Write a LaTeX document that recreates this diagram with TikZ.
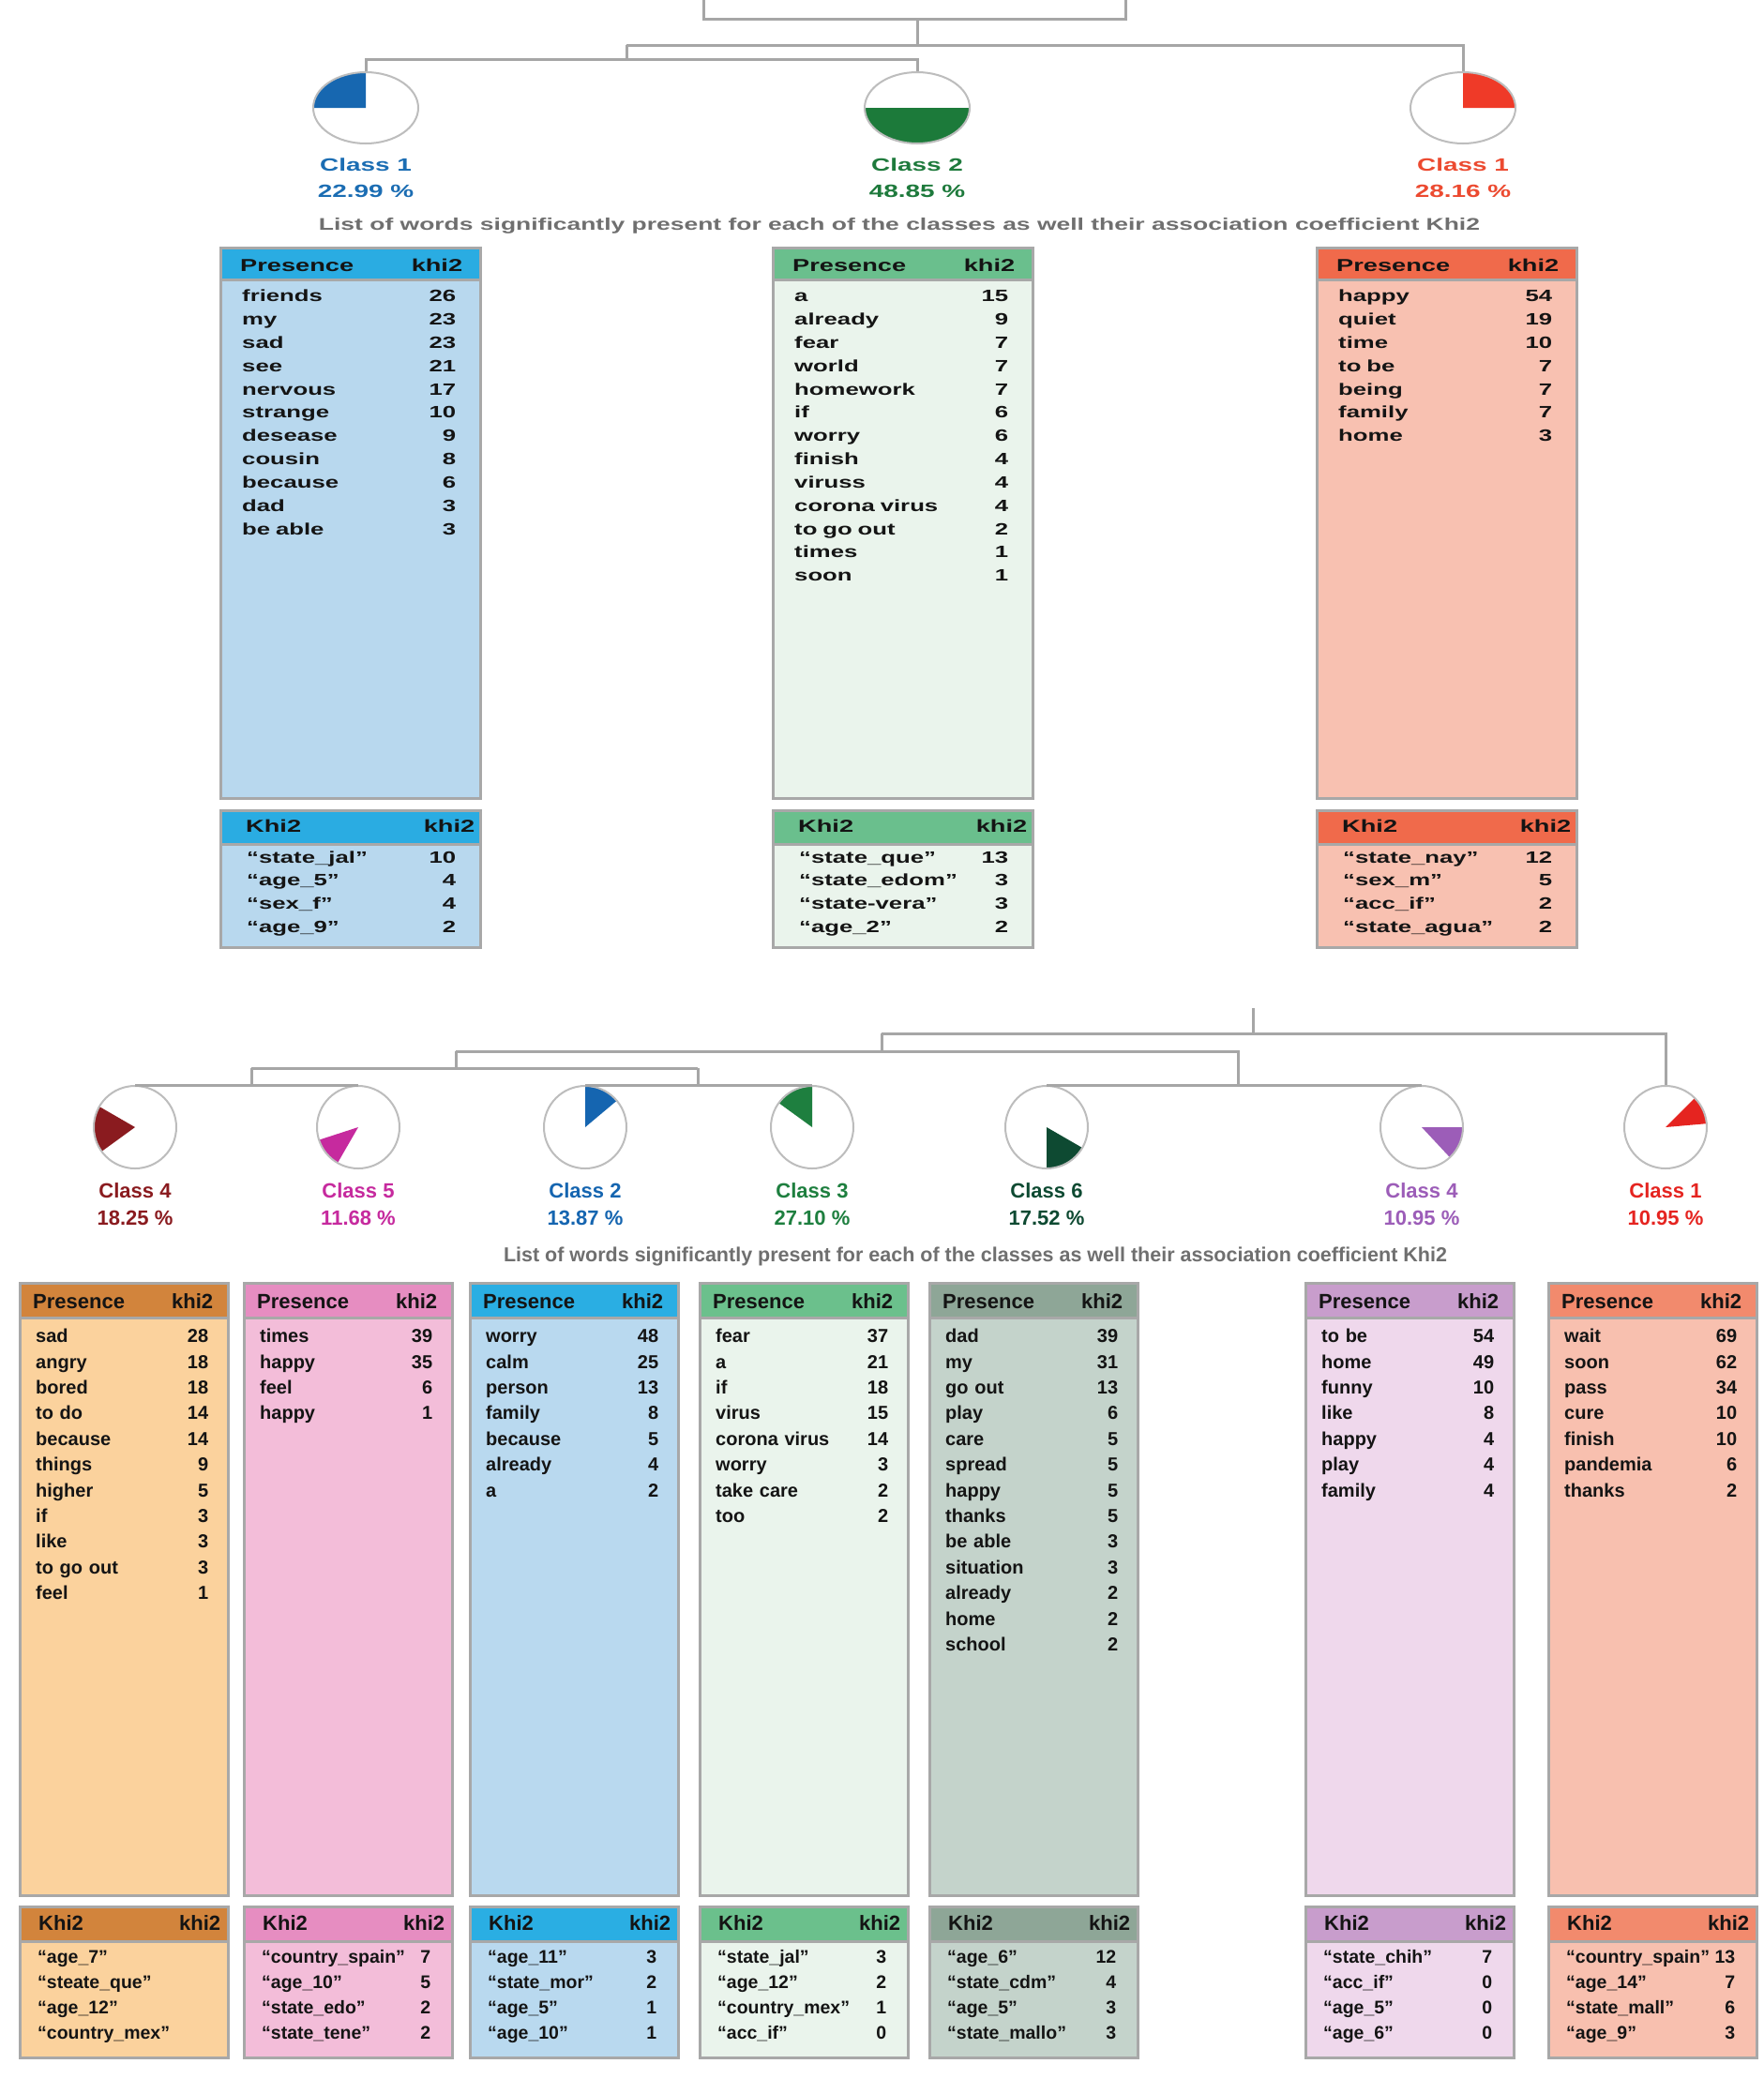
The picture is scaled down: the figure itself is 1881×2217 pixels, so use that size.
\documentclass[tikz,border=0pt]{standalone}
\usepackage{fontspec}
\setmainfont{Liberation Sans}
\newfontfamily\widefam[FakeStretch=1.47]{Liberation Sans}
\usetikzlibrary{shapes.geometric,calc}

\definecolor{dgray}{HTML}{A6A6A6}
\definecolor{cgray}{HTML}{BDBDBD}
\definecolor{bgray}{HTML}{A8A8A8}
\definecolor{capgray}{HTML}{6F6F6F}
\definecolor{tblack}{HTML}{141414}
% top
\definecolor{tBlueH}{HTML}{2AACE2}\definecolor{tBlueB}{HTML}{B8D8EE}
\definecolor{tGreenH}{HTML}{6ABF8D}\definecolor{tGreenB}{HTML}{EAF4EC}
\definecolor{tRedH}{HTML}{F06A4B}\definecolor{tRedB}{HTML}{F8C1B1}
\definecolor{lBlue}{HTML}{1B6DB3}\definecolor{lGreen}{HTML}{1E7A3C}\definecolor{lRed}{HTML}{EC4A30}
\definecolor{wBlue}{HTML}{1767B0}\definecolor{wGreen}{HTML}{1C7A3A}\definecolor{wRed}{HTML}{EF3A28}
% bottom
\definecolor{oH}{HTML}{D2843C}\definecolor{oB}{HTML}{FBD29D}
\definecolor{pH}{HTML}{E68DC1}\definecolor{pB}{HTML}{F3BDD9}
\definecolor{bH}{HTML}{2AAEE3}\definecolor{bB}{HTML}{B9D9EF}
\definecolor{gH}{HTML}{6BC08C}\definecolor{gB}{HTML}{EAF4EC}
\definecolor{ggH}{HTML}{8EA697}\definecolor{ggB}{HTML}{C4D3CB}
\definecolor{puH}{HTML}{C89DCC}\definecolor{puB}{HTML}{EFD8EC}
\definecolor{sH}{HTML}{F28A6D}\definecolor{sB}{HTML}{F8C0AF}
\definecolor{kFour}{HTML}{8A1B1F}\definecolor{kFive}{HTML}{C62A9E}
\definecolor{kTwo}{HTML}{1565B0}\definecolor{kThree}{HTML}{1E7F3F}
\definecolor{kSix}{HTML}{0E4A32}\definecolor{kFourP}{HTML}{9C5DB8}
\definecolor{kOne}{HTML}{E52420}

\tikzset{
  dline/.style={draw=dgray, line width=3pt},
  toppie/.style={ellipse, draw=cgray, line width=2pt, minimum width=112pt, minimum height=76pt, inner sep=0pt},
  botpie/.style={circle, draw=cgray, line width=2pt, minimum size=88pt, inner sep=0pt},
  tabbox/.style={draw=bgray, line width=2.5pt, anchor=north west, inner sep=0pt},
  ttxt/.style={anchor=base west, inner sep=0pt, align=left, text=tblack},
  toplab/.style={anchor=base, inner sep=0pt, font=\widefam\bfseries\fontsize{19}{21}\selectfont},
  botlab/.style={anchor=base, inner sep=0pt, font=\bfseries\fontsize{22}{24}\selectfont},
}

\newcommand\Wedge[6]{\fill[#2] (#1) -- ++(#3:#5 and #6) arc[start angle=#3, end angle=#4, x radius=#5, y radius=#6] -- cycle;}

\newcommand\TopTab[6]{%
  \node[tabbox, fill=#3, minimum width=277pt, minimum height=587pt] (#1p) at (#2,-263) {};
  \node[tabbox, fill=#4, minimum width=277pt, minimum height=34pt] (#1ph) at (#2,-263) {};
  \node[ttxt, text width=237pt, font=\widefam\bfseries\fontsize{18.5}{20}\selectfont] (#1pt) at (#2+22,-289) {Presence\hfill khi2};
  \node[ttxt, text width=228pt, font=\widefam\bfseries\fontsize{17.5}{24.83}\selectfont] (#1pr) at (#2+24,-321.7) {#5};
  \node[tabbox, fill=#3, minimum width=277pt, minimum height=146pt] (#1k) at (#2,-863) {};
  \node[tabbox, fill=#4, minimum width=277pt, minimum height=36pt] (#1kh) at (#2,-863) {};
  \node[ttxt, text width=244pt, font=\widefam\bfseries\fontsize{18.5}{20}\selectfont] (#1kt) at (#2+28,-887) {Khi2\hfill khi2};
  \node[ttxt, text width=223pt, font=\widefam\bfseries\fontsize{17.5}{24.7}\selectfont] (#1kr) at (#2+29,-920) {#6};
}

\newcommand\BotTab[6]{%
  \node[tabbox, fill=#3, minimum width=222pt, minimum height=653pt] (#1p) at (#2,-1367) {};
  \node[tabbox, fill=#4, minimum width=222pt, minimum height=37pt] (#1ph) at (#2,-1367) {};
  \node[ttxt, text width=192pt, font=\bfseries\fontsize{22}{24}\selectfont] (#1pt) at (#2+15,-1395) {Presence\hfill khi2};
  \node[ttxt, text width=184pt, font=\bfseries\fontsize{20}{27.4}\selectfont] (#1pr) at (#2+18,-1431.7) {#5};
  \node[tabbox, fill=#3, minimum width=222pt, minimum height=161pt] (#1k) at (#2,-2032) {};
  \node[tabbox, fill=#4, minimum width=222pt, minimum height=37pt] (#1kh) at (#2,-2032) {};
  \node[ttxt, text width=194pt, font=\bfseries\fontsize{22}{24}\selectfont] (#1kt) at (#2+21,-2058) {Khi2\hfill khi2};
  \node[ttxt, text width=180pt, font=\bfseries\fontsize{19.5}{27.3}\selectfont] (#1kr) at (#2+20,-2093) {#6};
}

\begin{document}
\begin{tikzpicture}[x=1pt,y=1pt]
\useasboundingbox (0,0) rectangle (1881,-2217);
\fill[white] (0,0) rectangle (1881,-2217);

% ---------- top pies ----------
\coordinate (pc1) at (390,-115);
\coordinate (pc2) at (978,-115);
\coordinate (pc3) at (1560,-115);
\Wedge{pc1}{wBlue}{90}{180}{56pt}{38pt}
\Wedge{pc2}{wGreen}{180}{360}{56pt}{38pt}
\Wedge{pc3}{wRed}{0}{90}{56pt}{38pt}
\node[toppie] (p1) at (pc1) {};
\node[toppie] (p2) at (pc2) {};
\node[toppie] (p3) at (pc3) {};

% ---------- top tree ----------
\coordinate (rootL) at (750,0);
\coordinate (rootR) at (1200,0);
\coordinate (t0) at (978,-20);
\coordinate (t1) at (668,-48);
\coordinate (t2) at (668,-63);
\draw[dline] (rootL) |- (t0) -| (rootR);
\draw[dline] (t0) -- (t0 |- t1);
\draw[dline] (t1) -| (p3.north);
\draw[dline] (t1) -- (t2);
\draw[dline] (p1.north) |- (t2);
\draw[dline] (t2) -| (p2.north);

% ---------- top labels ----------
\node[toplab, text=lBlue] (l1) at (390,-182) {Class 1};
\node[toplab, text=lBlue] (l1p) at (390,-210) {22.99 \%};
\node[toplab, text=lGreen] (l2) at (978,-182) {Class 2};
\node[toplab, text=lGreen] (l2p) at (978,-210) {48.85 \%};
\node[toplab, text=lRed] (l3) at (1560,-182) {Class 1};
\node[toplab, text=lRed] (l3p) at (1560,-210) {28.16 \%};
\node[anchor=base, inner sep=0pt, text=capgray, font=\widefam\bfseries\fontsize{18}{20}\selectfont] (cap1) at (959,-245)
  {List of words significantly present for each of the classes as well their association coefficient Khi2};

% ---------- top tables ----------
\TopTab{A}{234}{tBlueB}{tBlueH}
 {friends\hfill 26\\my\hfill 23\\sad\hfill 23\\see\hfill 21\\nervous\hfill 17\\strange\hfill 10\\desease\hfill 9\\cousin\hfill 8\\because\hfill 6\\dad\hfill 3\\be able\hfill 3}
 {“state\_jal”\hfill 10\\“age\_5”\hfill 4\\“sex\_f”\hfill 4\\“age\_9”\hfill 2}
\TopTab{B}{823}{tGreenB}{tGreenH}
 {a\hfill 15\\already\hfill 9\\fear\hfill 7\\world\hfill 7\\homework\hfill 7\\if\hfill 6\\worry\hfill 6\\finish\hfill 4\\viruss\hfill 4\\corona virus\hfill 4\\to go out\hfill 2\\times\hfill 1\\soon\hfill 1}
 {“state\_que”\hfill 13\\“state\_edom”\hfill 3\\“state-vera”\hfill 3\\“age\_2”\hfill 2}
\TopTab{C}{1403}{tRedB}{tRedH}
 {happy\hfill 54\\quiet\hfill 19\\time\hfill 10\\to be\hfill 7\\being\hfill 7\\family\hfill 7\\home\hfill 3}
 {“state\_nay”\hfill 12\\“sex\_m”\hfill 5\\“acc\_if”\hfill 2\\“state\_agua”\hfill 2}

% ---------- bottom pies ----------
\coordinate (qc1) at (144,-1202);
\coordinate (qc2) at (382,-1202);
\coordinate (qc3) at (624,-1202);
\coordinate (qc4) at (866,-1202);
\coordinate (qc5) at (1116,-1202);
\coordinate (qc6) at (1516,-1202);
\coordinate (qc7) at (1776,-1202);
\Wedge{qc1}{kFour}{150}{216}{44pt}{44pt}
\Wedge{qc2}{kFive}{198}{240}{44pt}{44pt}
\Wedge{qc3}{kTwo}{40}{90}{44pt}{44pt}
\Wedge{qc4}{kThree}{90}{144}{44pt}{44pt}
\Wedge{qc5}{kSix}{-90}{-30}{44pt}{44pt}
\Wedge{qc6}{kFourP}{-47}{0}{44pt}{44pt}
\Wedge{qc7}{kOne}{5}{45}{44pt}{44pt}
\node[botpie] (q1) at (qc1) {};
\node[botpie] (q2) at (qc2) {};
\node[botpie] (q3) at (qc3) {};
\node[botpie] (q4) at (qc4) {};
\node[botpie] (q5) at (qc5) {};
\node[botpie] (q6) at (qc6) {};
\node[botpie] (q7) at (qc7) {};

% ---------- bottom tree ----------
\coordinate (u0) at (1336,-1075);
\coordinate (u1) at (940,-1102);
\coordinate (u2) at (486,-1121);
\coordinate (u3) at (268,-1139);
\coordinate (u4) at (744,-1139);
\coordinate (u5) at (1320,-1157);
\draw[dline] (u0) -- (u0 |- u1);
\draw[dline] (u1) -| (q7.north);
\draw[dline] (u1) -- (u1 |- u2);
\draw[dline] (u2) -| (u5);
\draw[dline] (u2) -- (u2 |- u3);
\draw[dline] (u3) -- (u4);
\draw[dline] (u3) -- (u3 |- q1.north);
\draw[dline] (u4) -- (u4 |- q3.north);
\draw[dline] (q1.north) -- (q2.north);
\draw[dline] (q3.north) -- (q4.north);
\draw[dline] (q5.north) -- (q6.north);

% ---------- bottom labels ----------
\node[botlab, text=kFour] (m1) at (144,-1277) {Class 4};
\node[botlab, text=kFour] (m1p) at (144,-1306) {18.25 \%};
\node[botlab, text=kFive] (m2) at (382,-1277) {Class 5};
\node[botlab, text=kFive] (m2p) at (382,-1306) {11.68 \%};
\node[botlab, text=kTwo] (m3) at (624,-1277) {Class 2};
\node[botlab, text=kTwo] (m3p) at (624,-1306) {13.87 \%};
\node[botlab, text=kThree] (m4) at (866,-1277) {Class 3};
\node[botlab, text=kThree] (m4p) at (866,-1306) {27.10 \%};
\node[botlab, text=kSix] (m5) at (1116,-1277) {Class 6};
\node[botlab, text=kSix] (m5p) at (1116,-1306) {17.52 \%};
\node[botlab, text=kFourP] (m6) at (1516,-1277) {Class 4};
\node[botlab, text=kFourP] (m6p) at (1516,-1306) {10.95 \%};
\node[botlab, text=kOne] (m7) at (1776,-1277) {Class 1};
\node[botlab, text=kOne] (m7p) at (1776,-1306) {10.95 \%};
\node[anchor=base, inner sep=0pt, text=capgray, font=\bfseries\fontsize{21.5}{24}\selectfont] (cap2) at (1040,-1345)
  {List of words significantly present for each of the classes as well their association coefficient Khi2};

% ---------- bottom tables ----------
\BotTab{D}{20}{oB}{oH}
 {sad\hfill 28\\angry\hfill 18\\bored\hfill 18\\to do\hfill 14\\because\hfill 14\\things\hfill 9\\higher\hfill 5\\if\hfill 3\\like\hfill 3\\to go out\hfill 3\\feel\hfill 1}
 {“age\_7”\\“steate\_que”\\“age\_12”\\“country\_mex”}
\BotTab{E}{259}{pB}{pH}
 {times\hfill 39\\happy\hfill 35\\feel\hfill 6\\happy\hfill 1}
 {“country\_spain”\hfill 7\\“age\_10”\hfill 5\\“state\_edo”\hfill 2\\“state\_tene”\hfill 2}
\BotTab{F}{500}{bB}{bH}
 {worry\hfill 48\\calm\hfill 25\\person\hfill 13\\family\hfill 8\\because\hfill 5\\already\hfill 4\\a\hfill 2}
 {“age\_11”\hfill 3\\“state\_mor”\hfill 2\\“age\_5”\hfill 1\\“age\_10”\hfill 1}
\BotTab{G}{745}{gB}{gH}
 {fear\hfill 37\\a\hfill 21\\if\hfill 18\\virus\hfill 15\\corona virus\hfill 14\\worry\hfill 3\\take care\hfill 2\\too\hfill 2}
 {“state\_jal”\hfill 3\\“age\_12”\hfill 2\\“country\_mex”\hfill 1\\“acc\_if”\hfill 0}
\BotTab{H}{990}{ggB}{ggH}
 {dad\hfill 39\\my\hfill 31\\go out\hfill 13\\play\hfill 6\\care\hfill 5\\spread\hfill 5\\happy\hfill 5\\thanks\hfill 5\\be able\hfill 3\\situation\hfill 3\\already\hfill 2\\home\hfill 2\\school\hfill 2}
 {“age\_6”\hfill 12\\“state\_cdm”\hfill 4\\“age\_5”\hfill 3\\“state\_mallo”\hfill 3}
\BotTab{I}{1391}{puB}{puH}
 {to be\hfill 54\\home\hfill 49\\funny\hfill 10\\like\hfill 8\\happy\hfill 4\\play\hfill 4\\family\hfill 4}
 {“state\_chih”\hfill 7\\“acc\_if”\hfill 0\\“age\_5”\hfill 0\\“age\_6”\hfill 0}
\BotTab{J}{1650}{sB}{sH}
 {wait\hfill 69\\soon\hfill 62\\pass\hfill 34\\cure\hfill 10\\finish\hfill 10\\pandemia\hfill 6\\thanks\hfill 2}
 {“country\_spain”\hfill 13\\“age\_14”\hfill 7\\“state\_mall”\hfill 6\\“age\_9”\hfill 3}
\end{tikzpicture}
\end{document}
